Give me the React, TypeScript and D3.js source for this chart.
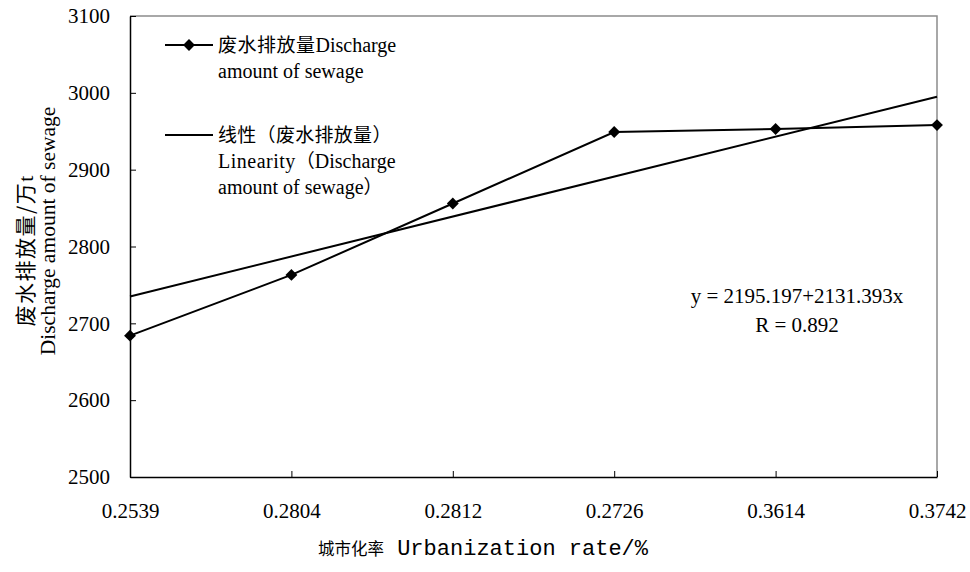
import { useRef, useEffect } from "react";
import * as d3 from "d3";

const rateLabels = ["0.2539", "0.2804", "0.2812", "0.2726", "0.3614", "0.3742"];
const discharge = [2684, 2763, 2856, 2949, 2953, 2958];
const trendEnds = [2735, 2995];
const yTicks = [2500, 2600, 2700, 2800, 2900, 3000, 3100];

const SERIF = "'Liberation Serif', 'Times New Roman', serif";
const CJK = "'Noto Sans CJK SC', sans-serif";
const MONO = "'Liberation Mono', 'DejaVu Sans Mono', monospace";

const App = () => {
  const svgRef = useRef<SVGSVGElement>(null);

  useEffect(() => {
    const svg = d3.select(svgRef.current);
    svg.selectAll("*").remove();

    const x = d3.scalePoint<string>().domain(rateLabels).range([130, 937]);
    const y = d3.scaleLinear().domain([2500, 3100]).range([477, 16]);

    // frame: top & right grey
    svg
      .append("path")
      .attr("d", `M${x.range()[0]},${y(3100)}H${x.range()[1]}V${y(2500)}`)
      .attr("fill", "none")
      .attr("stroke", "#8c8c8c")
      .attr("stroke-width", 1.5);

    // y axis
    const yAxis = svg
      .append("g")
      .attr("transform", `translate(${x.range()[0]},0)`)
      .call(
        d3
          .axisLeft(y)
          .tickValues(yTicks)
          .tickFormat(d3.format("d"))
          .tickSizeInner(-6)
          .tickSizeOuter(0)
          .tickPadding(20)
      );
    yAxis.select(".domain").attr("stroke", "#000").attr("stroke-width", 1.5);
    yAxis.selectAll(".tick line").attr("stroke", "#000");
    yAxis
      .selectAll(".tick text")
      .attr("font-family", SERIF)
      .attr("font-size", 21)
      .attr("fill", "#000");

    // x axis
    const xAxis = svg
      .append("g")
      .attr("transform", `translate(0,${y(2500)})`)
      .call(d3.axisBottom(x).tickSizeInner(-6).tickSizeOuter(0).tickPadding(26));
    xAxis.select(".domain").attr("stroke", "#000").attr("stroke-width", 1.5);
    xAxis.selectAll(".tick line").attr("stroke", "#000");
    xAxis
      .selectAll(".tick text")
      .attr("font-family", SERIF)
      .attr("font-size", 21)
      .attr("fill", "#000");

    // trend line
    const trendPts: [string, number][] = [
      [rateLabels[0], trendEnds[0]],
      [rateLabels[rateLabels.length - 1], trendEnds[1]],
    ];
    svg
      .append("path")
      .datum(trendPts)
      .attr("fill", "none")
      .attr("stroke", "#000")
      .attr("stroke-width", 2)
      .attr(
        "d",
        d3
          .line<[string, number]>()
          .x((d) => x(d[0]) as number)
          .y((d) => y(d[1]))
      );

    // data line
    const pts = rateLabels.map((r, i) => ({ r, v: discharge[i] }));
    svg
      .append("path")
      .datum(pts)
      .attr("fill", "none")
      .attr("stroke", "#000")
      .attr("stroke-width", 2)
      .attr(
        "d",
        d3
          .line<{ r: string; v: number }>()
          .x((d) => x(d.r) as number)
          .y((d) => y(d.v))
      );

    const diamond = d3.symbol().type(d3.symbolDiamond2).size(90);
    svg
      .selectAll(".pt")
      .data(pts)
      .join("path")
      .attr("class", "pt")
      .attr("d", diamond)
      .attr("transform", (d) => `translate(${x(d.r)},${y(d.v)})`)
      .attr("fill", "#000");

    // legend
    const lg = svg.append("g");
    lg.append("line").attr("x1", 165).attr("x2", 213).attr("y1", 45).attr("y2", 45)
      .attr("stroke", "#000").attr("stroke-width", 2);
    lg.append("path").attr("d", diamond).attr("transform", "translate(189,45)").attr("fill", "#000");
    lg.append("line").attr("x1", 165).attr("x2", 213).attr("y1", 135).attr("y2", 135)
      .attr("stroke", "#000").attr("stroke-width", 2);

    const t1 = lg.append("text").attr("x", 218).attr("y", 52).attr("font-size", 20).attr("fill", "#000");
    t1.append("tspan").attr("font-family", CJK).attr("font-size", 19).attr("letter-spacing", 0.5).text("废水排放量");
    t1.append("tspan").attr("font-family", SERIF).text("Discharge");
    lg.append("text").attr("x", 218).attr("y", 78).attr("font-family", SERIF).attr("font-size", 20)
      .attr("fill", "#000").text("amount of sewage");

    lg.append("text").attr("x", 218).attr("y", 142).attr("font-family", CJK).attr("font-size", 19)
      .attr("letter-spacing", 0.3).attr("fill", "#000").text("线性（废水排放量）");
    const t2 = lg.append("text").attr("x", 218).attr("y", 168).attr("font-size", 20).attr("fill", "#000");
    t2.append("tspan").attr("font-family", SERIF).attr("letter-spacing", 0.5).text("Linearity");
    t2.append("tspan").attr("font-family", CJK).attr("font-size", 19).text("（");
    t2.append("tspan").attr("font-family", SERIF).text("Discharge");
    const t3 = lg.append("text").attr("x", 218).attr("y", 194).attr("font-size", 20).attr("fill", "#000");
    t3.append("tspan").attr("font-family", SERIF).text("amount of sewage");
    t3.append("tspan").attr("font-family", CJK).attr("font-size", 19).text("）");

    // equation
    svg.append("text").attr("x", 797).attr("y", 303).attr("text-anchor", "middle")
      .attr("font-family", SERIF).attr("font-size", 21).attr("fill", "#000")
      .text("y = 2195.197+2131.393x");
    svg.append("text").attr("x", 797).attr("y", 332).attr("text-anchor", "middle")
      .attr("font-family", SERIF).attr("font-size", 21).attr("fill", "#000")
      .text("R = 0.892");

    // x title
    const xt = svg.append("text").attr("x", 483).attr("y", 555).attr("text-anchor", "middle").attr("fill", "#000");
    xt.append("tspan").attr("font-family", CJK).attr("font-size", 16.5).text("城市化率");
    xt.append("tspan").attr("font-family", MONO).attr("font-size", 22).text(" Urbanization rate/%");

    // y title
    const yt1 = svg.append("text").attr("transform", "translate(33,251) rotate(-90)")
      .attr("text-anchor", "middle").attr("fill", "#000");
    yt1.append("tspan").attr("font-family", CJK).attr("font-size", 21).attr("letter-spacing", 1.5).text("废水排放量/万");
    yt1.append("tspan").attr("font-family", SERIF).attr("font-size", 22).text("t");
    svg.append("text").attr("transform", "translate(55,231) rotate(-90)")
      .attr("text-anchor", "middle").attr("font-family", SERIF).attr("font-size", 21.5)
      .attr("fill", "#000").text("Discharge amount of sewage");
  }, []);

  return (
    <svg
      ref={svgRef}
      width={970}
      height={572}
      style={{ position: "absolute", left: 0, top: 0, background: "#fff" }}
    ></svg>
  );
};

export default App;
